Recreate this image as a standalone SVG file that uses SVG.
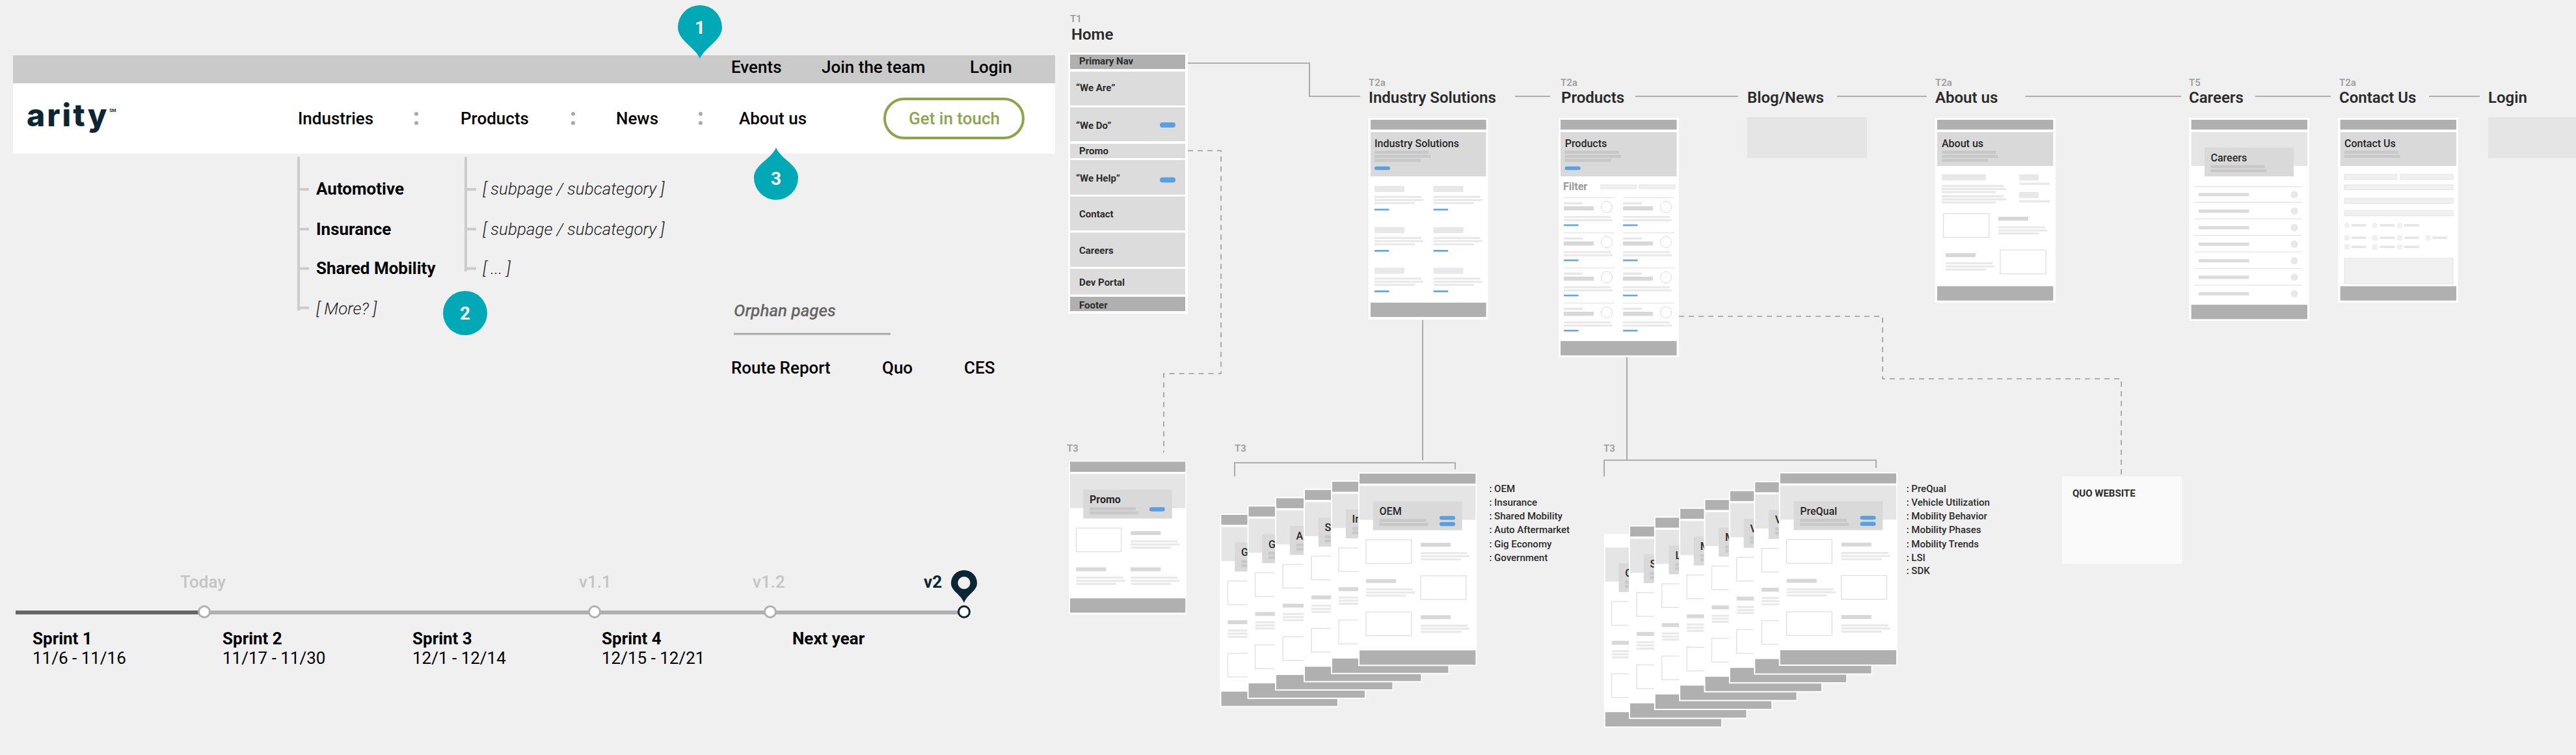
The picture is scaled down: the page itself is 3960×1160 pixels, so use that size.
<svg xmlns="http://www.w3.org/2000/svg" xmlns:xlink="http://www.w3.org/1999/xlink" width="3960" height="1160" viewBox="0 0 3960 1160">
<style>
text{font-family:Roboto,"Liberation Sans",sans-serif;font-weight:500;fill:#000}
.n{font-size:26px}
.b{font-size:26px;font-weight:700}
.il{font-size:26px;font-style:italic;font-weight:300;fill:#222}
.d{font-size:26px;font-weight:400}
.g{font-size:26px;fill:#c4c4c4}
.tag{font-size:15px;fill:#999}
.h{font-size:24px;font-weight:600;fill:#2b2b2b}
.r{font-size:15px;font-weight:700;fill:#2b2b2b}
.t{font-size:16px;fill:#262626}
.l{font-size:15px;fill:#2b2b2b}
.pn{font-size:28px;font-weight:700;fill:#fff;text-anchor:middle}
.card{fill:#fff}
.nav{fill:#b0b0b0}
.hero{fill:#d9d9d9}
.hl{fill:#e5e5e5}
.box{fill:#d9d9d9}
.ln{fill:#c8c8c8}
.hd{fill:#e8e8e8}
.hd2{fill:#d8d8d8}
.tx{fill:#e8e8e8}
.bl{fill:#62a8e0}
.pill{fill:#5b9fe0}
.img{fill:#fff;stroke:#ddd;stroke-width:1.2}
.fld{fill:#f0f0f0;stroke:#e4e4e4;stroke-width:1}
.teal{fill:#00a9b5}
.tree{fill:none;stroke:#ccc;stroke-width:4}
.c{fill:none;stroke:#999;stroke-width:1.6}
.dash{stroke-dasharray:8 7}
.ms{fill:#fff;stroke:#b0b0b0;stroke-width:3}
.row{fill:#dcdcdc}
.dot{fill:#aaa}
</style>
<defs>
<g id="t3body">
<rect class="card" x="-2" y="-2" width="182" height="297.6"/>
<rect class="hl" y="18.6" width="178.4" height="52.4"/>
<rect class="box" x="20.7" y="42.6" width="137" height="44.4"/>
<rect class="ln" x="30.6" y="69.6" width="71.6" height="4.7"/>
<rect class="ln" x="30.6" y="76" width="75" height="4.7"/>
<rect class="img" x="10" y="101.6" width="69.6" height="36.4"/>
<rect class="hd2" x="94" y="106.3" width="46" height="6"/>
<use href="#tl" x="94" y="120.6"/>
<rect class="hd2" x="10" y="162" width="46" height="6"/>
<use href="#tl" x="10" y="176.3"/>
<rect class="img" x="94" y="157" width="69.8" height="36.3"/>
<rect class="img" x="10" y="212.6" width="69.6" height="36.4"/>
<rect class="hd2" x="94" y="217.6" width="46" height="6"/>
<use href="#tl" x="94" y="232"/>
<rect class="nav" y="271.6" width="178.4" height="22"/>
</g>
<g id="tl">
<rect class="tx" width="72" height="3"/>
<rect class="tx" y="4.8" width="75" height="3"/>
<rect class="tx" y="9.6" width="62" height="3"/>
</g>
<g id="hl3">
<rect class="ln" y="0" width="83" height="4.5"/>
<rect class="ln" y="6.3" width="86" height="4.5"/>
<rect class="ln" y="12.5" width="71" height="4.5"/>
</g>
<g id="is-cell">
<rect class="hd" width="46" height="9.3"/>
<use href="#tl" y="15.3"/>
<rect class="bl" y="35" width="22.5" height="2.7"/>
</g>
<g id="pr-cell">
<rect x="0" y="0" width="78" height="1" fill="#ddd"/>
<rect class="tx" y="7.4" width="29" height="3.3"/>
<rect class="hd2" y="13.7" width="46" height="6.3"/>
<circle cx="66" cy="14.7" r="8.6" fill="#fff" stroke="#ddd" stroke-width="1"/>
<rect class="tx" y="28.7" width="72" height="2.7"/>
<rect class="tx" y="33.4" width="75" height="3"/>
<rect class="bl" y="41.4" width="22.5" height="2.6"/>
</g>
</defs>
<rect width="3960" height="1160" fill="#f0f0f0"/>

<g id="connectors">
<path class="c" d="M1826 97H2013V148H2091"/>
<path class="c" d="M2329 148H2383M2514 148H2672M2824 148H2962M3113.500 148H3353M3467 148H3583M3734 148H3812"/>
<path class="c dash" d="M1826 231.500H1877V574H1789V695"/>
<path class="c" d="M2187 491.700V707M1898 732V711H2237V721"/>
<path class="c" d="M2501 549V707M2466 732V707H2884V719"/>
<path class="c dash" d="M2581 486H2894V582H3261V732"/>
</g>

<g id="site-header">
<rect x="20" y="85" width="1602" height="43" fill="#cacaca"/>
<rect x="20" y="128" width="1602" height="108" fill="#fff"/>
<text class="n" x="1124" y="112">Events</text>
<text class="n" x="1263" y="112">Join the team</text>
<text class="n" x="1491" y="112">Login</text>
<text x="41" y="194" style="font-family:Inter,sans-serif;font-size:48px;font-weight:800;letter-spacing:3px;fill:#0d2636">arity</text>
<text x="168" y="172" style="font-size:7px;font-weight:700;fill:#0d2636">SM</text>
<text class="n" x="458" y="191">Industries</text>
<text class="n" x="708" y="191">Products</text>
<text class="n" x="947" y="191">News</text>
<text class="n" x="1136" y="191">About us</text>
<circle class="dot" cx="640" cy="175" r="3"/><circle class="dot" cx="640" cy="189" r="3"/>
<circle class="dot" cx="881" cy="175" r="3"/><circle class="dot" cx="881" cy="189" r="3"/>
<circle class="dot" cx="1077" cy="175" r="3"/><circle class="dot" cx="1077" cy="189" r="3"/>
<rect x="1360" y="152" width="213" height="60" rx="30" fill="#fff" stroke="#8aa64b" stroke-width="4"/>
<text class="n" x="1397" y="191" style="fill:#8aa64b">Get in touch</text>
</g>

<g id="menu-tree">
<path class="tree" d="M459 241V477M459 291H475M459 352H475M459 412.500H475M459 473H475M716 241V417M716 291H732M716 352H732M716 412.500H732"/>
<text class="b" x="486" y="299">Automotive</text>
<text class="b" x="486" y="361">Insurance</text>
<text class="b" x="486" y="421">Shared Mobility</text>
<text class="il" x="486" y="483">[ More? ]</text>
<text class="il" x="742" y="299">[ subpage / subcategory ]</text>
<text class="il" x="742" y="361">[ subpage / subcategory ]</text>
<text class="il" x="742" y="421">[ ... ]</text>
</g>

<g id="marker-1"><path class="teal" d="M1076 90C1068 72 1042 62 1042 42A34 34 0 1 1 1110 42C1110 62 1084 72 1076 90Z"/><text class="pn" x="1076" y="52">1</text></g>
<g id="marker-2"><circle class="teal" cx="715" cy="481" r="34"/><text class="pn" x="715" y="491">2</text></g>
<g id="marker-3"><path class="teal" d="M1193 227C1185 245 1159 253 1159 273A34 34 0 1 0 1227 273C1227 253 1201 245 1193 227Z"/><text class="pn" x="1193" y="284">3</text></g>

<g id="orphans">
<text x="1128" y="486" style="font-size:26px;font-style:italic;fill:#666">Orphan pages</text>
<rect x="1128" y="511.500" width="241" height="3" fill="#aaa"/>
<text class="n" x="1124" y="574">Route Report</text>
<text class="n" x="1356" y="574">Quo</text>
<text class="n" x="1482" y="574">CES</text>
</g>

<g id="timeline">
<rect x="24" y="938" width="290" height="6" fill="#666"/>
<rect x="314" y="938" width="1168" height="6" fill="#b0b0b0"/>
<circle class="ms" cx="314" cy="940" r="8.500"/>
<circle class="ms" cx="914" cy="940" r="8.500"/>
<circle class="ms" cx="1184" cy="940" r="8.500"/>
<circle class="ms" cx="1482" cy="940" r="8.500" style="stroke:#0d2636"/>
<text class="g" x="277" y="903">Today</text>
<text class="g" x="890" y="903">v1.1</text>
<text class="g" x="1157" y="903">v1.2</text>
<text x="1420" y="903" style="font-size:26px;font-weight:700;fill:#0d2636">v2</text>
<path fill-rule="evenodd" fill="#0d2636" d="M1482 926C1476 912 1462 908 1462 896A20 20 0 1 1 1502 896C1502 908 1488 912 1482 926ZM1482 886a9.500 9.500 0 1 0 .01 0Z"/>
<text class="b" x="50" y="990">Sprint 1</text><text class="d" x="50" y="1020">11/6 - 11/16</text>
<text class="b" x="342" y="990">Sprint 2</text><text class="d" x="342" y="1020">11/17 - 11/30</text>
<text class="b" x="634" y="990">Sprint 3</text><text class="d" x="634" y="1020">12/1 - 12/14</text>
<text class="b" x="925" y="990">Sprint 4</text><text class="d" x="925" y="1020">12/15 - 12/21</text>
<text class="b" x="1218" y="990">Next year</text>
</g>

<g id="home">
<text class="tag" x="1645" y="34">T1</text>
<text class="h" x="1647" y="61">Home</text>
<rect class="card" x="1642" y="81" width="184" height="401"/>
<rect class="nav" x="1645" y="84" width="177" height="22"/><text class="r" x="1659" y="99">Primary Nav</text>
<rect class="row" x="1645" y="110" width="177" height="52"/><text class="r" x="1654" y="140">“We Are”</text>
<rect class="row" x="1645" y="165" width="177" height="52"/><text class="r" x="1654" y="197.500">“We Do”</text>
<rect class="pill" x="1783" y="188" width="24" height="8" rx="4"/>
<rect class="row" x="1645" y="221" width="177" height="22"/><text class="r" x="1659" y="237">Promo</text>
<rect class="row" x="1645" y="246" width="177" height="53"/><text class="r" x="1654" y="278.500">“We Help”</text>
<rect class="pill" x="1783" y="272.500" width="24" height="8" rx="4"/>
<rect class="row" x="1645" y="302" width="177" height="52"/><text class="r" x="1659" y="334">Contact</text>
<rect class="row" x="1645" y="357.500" width="177" height="52.500"/><text class="r" x="1659" y="390">Careers</text>
<rect class="row" x="1645" y="413" width="177" height="39.500"/><text class="r" x="1659" y="438.500">Dev Portal</text>
<rect class="nav" x="1645" y="456" width="177" height="22"/><text class="r" x="1659" y="474">Footer</text>
</g>

<g id="industry-solutions">
<text class="tag" x="2104" y="132">T2a</text>
<text class="h" x="2104" y="158">Industry Solutions</text>
<rect class="card" x="2103.500" y="181" width="184" height="310"/>
<rect class="nav" x="2107" y="184" width="177.600" height="15"/>
<rect class="hero" x="2107" y="203" width="177.600" height="68"/>
<text class="t" x="2113" y="226">Industry Solutions</text>
<use href="#hl3" x="2113" y="231.700"/>
<rect class="pill" x="2113" y="255.700" width="24" height="5.600" rx="2.800"/>
<use href="#is-cell" x="2113" y="285.700"/><use href="#is-cell" x="2203.600" y="285.700"/>
<use href="#is-cell" x="2113" y="349"/><use href="#is-cell" x="2203.600" y="349"/>
<use href="#is-cell" x="2113" y="411.300"/><use href="#is-cell" x="2203.600" y="411.300"/>
<rect class="nav" x="2107" y="465" width="177.600" height="22"/>
</g>

<g id="products">
<text class="tag" x="2399" y="132">T2a</text>
<text class="h" x="2400" y="158">Products</text>
<rect class="card" x="2396" y="181" width="185" height="368"/>
<rect class="nav" x="2399" y="184" width="178.500" height="15"/>
<rect class="hero" x="2399" y="203" width="178.500" height="68"/>
<text class="t" x="2405.700" y="226">Products</text>
<use href="#hl3" x="2405.700" y="231.700"/>
<rect class="pill" x="2405.700" y="255.700" width="24" height="5.600" rx="2.800"/>
<text x="2403" y="292" style="font-size:16px;font-weight:700;fill:#999">Filter</text>
<rect class="fld" x="2461" y="284" width="55" height="6"/><rect class="fld" x="2520" y="284" width="55" height="6"/>
<use href="#pr-cell" x="2404" y="303.300"/><use href="#pr-cell" x="2495" y="303.300"/>
<use href="#pr-cell" x="2404" y="357.300"/><use href="#pr-cell" x="2495" y="357.300"/>
<use href="#pr-cell" x="2404" y="411.300"/><use href="#pr-cell" x="2495" y="411.300"/>
<use href="#pr-cell" x="2404" y="465.300"/><use href="#pr-cell" x="2495" y="465.300"/>
<rect class="nav" x="2399" y="524" width="178.500" height="22"/>
</g>

<g id="blog-news">
<text class="h" x="2686" y="158">Blog/News</text>
<rect x="2685.500" y="180" width="184.500" height="63" fill="#e5e5e5"/>
</g>

<g id="about-us">
<text class="tag" x="2975" y="132">T2a</text>
<text class="h" x="2975" y="158">About us</text>
<rect class="card" x="2974.600" y="181" width="185.200" height="284"/>
<rect class="nav" x="2978" y="184" width="178.400" height="15"/>
<rect class="hero" x="2978" y="203" width="178.400" height="52"/>
<text class="t" x="2985" y="226">About us</text>
<use href="#hl3" x="2985" y="231.700"/>
<rect class="hd" x="2985" y="268" width="68" height="9.300"/>
<rect class="tx" x="2985" y="284" width="95" height="3.300"/><rect class="tx" x="2985" y="288.700" width="99" height="3.300"/><rect class="tx" x="2985" y="293.300" width="83" height="3.300"/>
<rect class="tx" x="2985" y="300" width="95" height="3.300"/><rect class="tx" x="2985" y="304.700" width="99" height="3.300"/><rect class="tx" x="2985" y="309.300" width="83" height="3.300"/>
<rect class="hd" x="3103.800" y="268" width="30" height="9.300"/><rect class="tx" x="3103.800" y="280.700" width="47" height="3.300"/>
<rect class="hd" x="3103.800" y="295" width="30" height="9.300"/><rect class="tx" x="3103.800" y="307.700" width="47" height="3.300"/>
<rect class="img" x="2987.600" y="328.300" width="70" height="36.400"/>
<rect class="hd2" x="3071.800" y="333" width="46" height="6"/><use href="#tl" x="3071.800" y="347.700"/>
<rect class="hd2" x="2991" y="389" width="46" height="6"/><use href="#tl" x="2991" y="403"/>
<rect class="img" x="3075" y="384" width="70" height="36.700"/>
<rect class="nav" x="2978" y="439.700" width="178.400" height="22"/>
</g>

<g id="careers">
<text class="tag" x="3365" y="132">T5</text>
<text class="h" x="3365" y="158">Careers</text>
<rect class="card" x="3365" y="181" width="185" height="312"/>
<rect class="nav" x="3368.600" y="184" width="178.400" height="15"/>
<rect class="hl" x="3368.600" y="203" width="178.400" height="52"/>
<rect class="box" x="3389" y="226.700" width="137" height="44.300"/>
<text class="t" x="3398.500" y="247.700">Careers</text>
<rect class="ln" x="3398.500" y="253.700" width="83" height="4.600"/><rect class="ln" x="3398.500" y="260" width="86" height="4.700"/>
<g id="career-rows" fill="#e8e8e8">
<rect x="3372.800" y="286" width="166" height="1.500"/><rect x="3372.800" y="310" width="166" height="1.500"/><rect x="3372.800" y="335.500" width="166" height="1.500"/><rect x="3372.800" y="361" width="166" height="1.500"/><rect x="3372.800" y="386.300" width="166" height="1.500"/><rect x="3372.800" y="411.700" width="166" height="1.500"/><rect x="3372.800" y="437.300" width="166" height="1.500"/>
<circle cx="3527" cy="299" r="5.600"/><circle cx="3527" cy="324.400" r="5.600"/><circle cx="3527" cy="349.800" r="5.600"/><circle cx="3527" cy="375.200" r="5.600"/><circle cx="3527" cy="400.600" r="5.600"/><circle cx="3527" cy="426" r="5.600"/><circle cx="3527" cy="451.400" r="5.600"/>
</g>
<g fill="#dcdcdc">
<rect x="3380" y="296.500" width="77.400" height="5"/><rect x="3380" y="321.900" width="77.400" height="5"/><rect x="3380" y="347.300" width="77.400" height="5"/><rect x="3380" y="372.700" width="77.400" height="5"/><rect x="3380" y="398.100" width="77.400" height="5"/><rect x="3380" y="423.500" width="77.400" height="5"/><rect x="3380" y="448.900" width="77.400" height="5"/>
</g>
<rect class="nav" x="3368.600" y="468.300" width="178.400" height="22"/>
</g>

<g id="contact-us">
<text class="tag" x="3596" y="132">T2a</text>
<text class="h" x="3596" y="158">Contact Us</text>
<rect class="card" x="3594" y="181" width="185" height="284"/>
<rect class="nav" x="3597.600" y="184" width="178.400" height="15"/>
<rect class="hero" x="3597.600" y="203" width="178.400" height="52"/>
<text class="t" x="3604" y="226">Contact Us</text>
<rect class="ln" x="3604" y="231.700" width="83" height="4.500"/><rect class="ln" x="3604" y="238" width="86" height="4.500"/>
<rect class="fld" x="3604" y="268" width="81" height="7.700"/><rect class="fld" x="3690" y="268" width="81" height="7.700"/>
<rect class="fld" x="3604" y="284" width="167" height="7.700"/>
<rect class="fld" x="3604" y="304.700" width="167" height="8"/>
<rect class="fld" x="3604" y="323.700" width="167" height="8"/>
<g fill="#f0f0f0">
<circle cx="3607.700" cy="346.300" r="4"/><circle cx="3650.600" cy="346.300" r="4"/><circle cx="3689" cy="346.300" r="4"/>
<rect x="3604" y="361.500" width="8" height="8"/><rect x="3646.800" y="361.500" width="8" height="8"/><rect x="3685" y="361.500" width="8" height="8"/><rect x="3728.500" y="361.500" width="8" height="8"/>
<rect x="3604" y="375.500" width="8" height="8"/><rect x="3646.800" y="375.500" width="8" height="8"/><rect x="3685" y="375.500" width="8" height="8"/>
</g>
<g fill="#e5e5e5">
<rect x="3614.800" y="344.300" width="22.700" height="3.500"/><rect x="3658.600" y="344.300" width="22.700" height="3.500"/><rect x="3696" y="344.300" width="22.700" height="3.500"/>
<rect x="3614.800" y="363.500" width="22.700" height="3.500"/><rect x="3658.600" y="363.500" width="22.700" height="3.500"/><rect x="3696" y="363.500" width="22.700" height="3.500"/><rect x="3739.400" y="363.500" width="22.700" height="3.500"/>
<rect x="3614.800" y="377.500" width="22.700" height="3.500"/><rect x="3658.600" y="377.500" width="22.700" height="3.500"/><rect x="3696" y="377.500" width="22.700" height="3.500"/>
</g>
<rect class="fld" x="3604" y="396.700" width="167" height="39.300"/>
<rect class="nav" x="3597.600" y="439.700" width="178.400" height="22"/>
</g>

<g id="login">
<text class="h" x="3825" y="158">Login</text>
<rect x="3825" y="180" width="135" height="63" fill="#e5e5e5"/>
</g>

<g id="promo">
<text class="tag" x="1640" y="694">T3</text>
<rect class="card" x="1643.300" y="708" width="180.400" height="236.300"/>
<rect class="nav" x="1645" y="709.300" width="177.300" height="15.700"/>
<rect class="hl" x="1645" y="728.300" width="177.300" height="52.400"/>
<rect class="box" x="1665.300" y="752.300" width="136.400" height="44.400"/>
<text class="t" x="1675" y="772.700" style="font-weight:700">Promo</text>
<rect class="ln" x="1675" y="779.300" width="71" height="4.700"/><rect class="ln" x="1675" y="785.700" width="74.700" height="4.600"/>
<rect class="pill" x="1767" y="779.300" width="23.700" height="6.400" rx="3.200"/>
<rect class="img" x="1654.300" y="811.300" width="69.400" height="36.400"/>
<rect class="hd2" x="1738.300" y="816" width="46" height="6"/><use href="#tl" x="1738.300" y="830.300"/>
<rect class="hd2" x="1654.300" y="871.700" width="46" height="6"/><use href="#tl" x="1654.300" y="886"/>
<rect class="hd2" x="1738.300" y="871.700" width="46" height="6"/><use href="#tl" x="1738.300" y="886"/>
<rect class="nav" x="1645" y="919.300" width="177.300" height="22"/>
</g>

<g id="quo-website">
<rect x="3170" y="732" width="184" height="134" fill="#fafafa"/>
<text x="3186" y="763" style="font-size:15px;font-weight:700;fill:#2b2b2b">QUO WEBSITE</text>
</g>

<g id="t3-stack-industries">
<text class="tag" x="1898" y="694">T3</text>
<g transform="translate(1877.500 791)"><use href="#t3body"/><rect class="nav" width="178.400" height="15.300"/><text class="t" x="30.600" y="63.300">G</text></g>
<g transform="translate(1919.500 778.300)"><use href="#t3body"/><rect class="nav" width="178.400" height="15.300"/><text class="t" x="30.600" y="63.300">G</text></g>
<g transform="translate(1962 765.500)"><use href="#t3body"/><rect class="nav" width="178.400" height="15.300"/><text class="t" x="30.600" y="63.300">A</text></g>
<g transform="translate(2006 752.800)"><use href="#t3body"/><rect class="nav" width="178.400" height="15.300"/><text class="t" x="30.600" y="63.300">S</text></g>
<g transform="translate(2048 740.200)"><use href="#t3body"/><rect class="nav" width="178.400" height="15.300"/><text class="t" x="30.600" y="63.300">In</text></g>
<g transform="translate(2090 727.700)"><use href="#t3body"/><rect class="nav" width="178.400" height="15.300"/><text class="t" x="30.600" y="63.300">OEM</text>
<rect class="pill" x="122.900" y="65" width="24.100" height="6" rx="3"/><rect class="pill" x="122.900" y="74.300" width="24.100" height="6.300" rx="3"/></g>
<text class="l" x="2289.400" y="755.700">: OEM</text>
<text class="l" x="2289.400" y="777">: Insurance</text>
<text class="l" x="2289.400" y="798">: Shared Mobility</text>
<text class="l" x="2289.400" y="819">: Auto Aftermarket</text>
<text class="l" x="2289.400" y="840.500">: Gig Economy</text>
<text class="l" x="2289.400" y="861.700">: Government</text>
</g>

<g id="t3-stack-products">
<text class="tag" x="2465" y="694">T3</text>
<g transform="translate(2467.700 822.600)"><use href="#t3body"/><text class="t" x="30.600" y="63.300">C</text></g>
<g transform="translate(2506 809)"><use href="#t3body"/><rect class="nav" width="178.400" height="15.300"/><text class="t" x="30.600" y="63.300">S</text></g>
<g transform="translate(2544.800 795.400)"><use href="#t3body"/><rect class="nav" width="178.400" height="15.300"/><text class="t" x="30.600" y="63.300">L</text></g>
<g transform="translate(2583.100 781.800)"><use href="#t3body"/><rect class="nav" width="178.400" height="15.300"/><text class="t" x="30.600" y="63.300">M</text></g>
<g transform="translate(2621.500 768.200)"><use href="#t3body"/><rect class="nav" width="178.400" height="15.300"/><text class="t" x="30.600" y="63.300">M</text></g>
<g transform="translate(2659.800 754.600)"><use href="#t3body"/><rect class="nav" width="178.400" height="15.300"/><text class="t" x="30.600" y="63.300">V</text></g>
<g transform="translate(2698.200 741)"><use href="#t3body"/><rect class="nav" width="178.400" height="15.300"/><text class="t" x="30.600" y="63.300">V</text></g>
<g transform="translate(2736.600 727.400)"><use href="#t3body"/><rect class="nav" width="178.400" height="15.300"/><text class="t" x="30.600" y="63.300">PreQual</text>
<rect class="pill" x="122.900" y="65" width="24.100" height="6" rx="3"/><rect class="pill" x="122.900" y="74.300" width="24.100" height="6.300" rx="3"/></g>
<text class="l" x="2930.700" y="755.700">: PreQual</text>
<text class="l" x="2930.700" y="777">: Vehicle Utilization</text>
<text class="l" x="2930.700" y="798">: Mobility Behavior</text>
<text class="l" x="2930.700" y="819">: Mobility Phases</text>
<text class="l" x="2930.700" y="840.500">: Mobility Trends</text>
<text class="l" x="2930.700" y="861.700">: LSI</text>
<text class="l" x="2930.700" y="882.300">: SDK</text>
</g>
</svg>
